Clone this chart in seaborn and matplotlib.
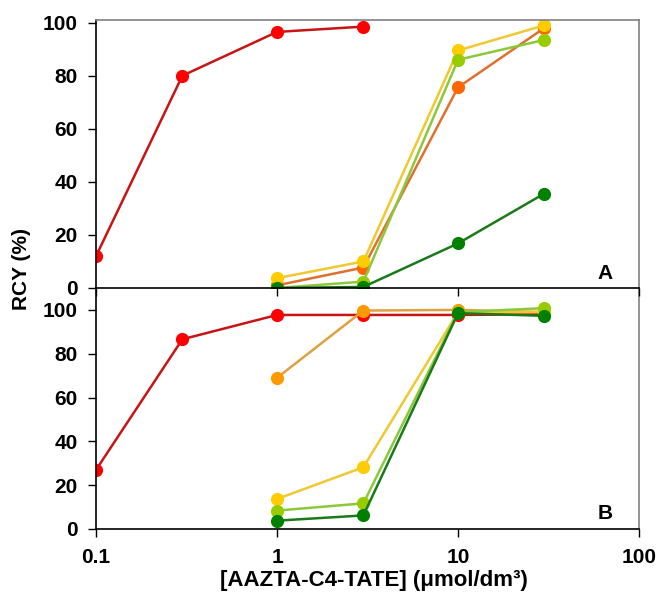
import numpy as np
import pandas as pd
import matplotlib
matplotlib.use("Agg")
import matplotlib.pyplot as plt
import seaborn as sns

# concentrations (umol/dm3)
conc_red = [0.1, 0.3, 1, 3]
conc_red_b = [0.1, 0.3, 1, 3, 10, 30]
conc = [1, 3, 10, 30]

# panel A - RCY (%)
a_red = [12, 80, 96.5, 98.5]
a_orange = [1, 7.7, 75.6, 98]
a_yellow = [3.7, 10, 89.5, 99]
a_lgreen = [0, 2.4, 86, 93.5]
a_green = [0, 0.4, 16.8, 35.6]

# panel B - RCY (%)
b_red = [27, 86.6, 97.7, 97.7, 97.7, 98]
b_orange = [69, 99.7, 100, 99]
b_yellow = [13.7, 28.2, 99, 99]
b_lgreen = [8.4, 11.7, 99, 100.8]
b_green = [3.8, 6.2, 98.5, 97.3]

xticks = [0.1, 1, 10, 100]
xticklabels = ["0.1", "1", "10", "100"]

sns.set_theme(style="ticks")
plt.rcParams["font.family"] = ["Liberation Sans", "DejaVu Sans"]
plt.rcParams["font.weight"] = "bold"
for k in ["text.color", "axes.labelcolor", "xtick.color", "ytick.color",
          "xtick.labelcolor", "ytick.labelcolor"]:
    plt.rcParams[k] = "black"

fig = plt.figure(figsize=(6.59, 5.98), dpi=100)
ax_b = fig.add_axes([0.1457, 0.1154, 0.824, 0.403])
ax_a = fig.add_axes([0.1457, 0.5184, 0.824, 0.4482])
ax_a.patch.set_alpha(0)

# (x, y, line colour, marker colour)
series_a = [
    (conc_red, a_red, "#C81414", "#FF0000"),
    (conc, a_orange, "#E07030", "#FF6600"),
    (conc, a_yellow, "#F0C830", "#FFCC00"),
    (conc, a_lgreen, "#8CC83C", "#99CC00"),
    (conc, a_green, "#1A7A1A", "#008000"),
]
series_b = [
    (conc_red_b, b_red, "#C81414", "#FF0000"),
    (conc, b_orange, "#E0A040", "#FF9900"),
    (conc, b_yellow, "#F0C830", "#FFCC00"),
    (conc, b_lgreen, "#8CC83C", "#99CC00"),
    (conc, b_green, "#1A7A1A", "#008000"),
]

for ax, series in [(ax_a, series_a), (ax_b, series_b)]:
    for x, y, lc, mc in series:
        df = pd.DataFrame({"x": x, "y": y})
        sns.lineplot(data=df, x="x", y="y", ax=ax, color=lc, marker="o",
                     markersize=9.5, markerfacecolor=mc, markeredgecolor=mc,
                     markeredgewidth=0, linewidth=1.8, sort=False)
    ax.set_xscale("log")
    ax.set_xlim(0.1, 100)
    ax.set_xticks(xticks)
    ax.minorticks_off()
    ax.set_yticks([0, 20, 40, 60, 80, 100])
    ax.set_xlabel("")
    ax.set_ylabel("")
    ax.tick_params(axis="both", direction="out", length=6, width=1,
                   color="black", labelsize=15, labelcolor="black")
    ax.tick_params(axis="y", pad=7)
    ax.tick_params(axis="x", pad=8)
    for s in ["left", "bottom"]:
        ax.spines[s].set_color("black")
        ax.spines[s].set_linewidth(1.2)
    for s in ["top", "right"]:
        ax.spines[s].set_color("#808080")
        ax.spines[s].set_linewidth(1.2)
    for lab in ax.get_yticklabels() + ax.get_xticklabels():
        lab.set_fontweight("bold")

ax_a.set_ylim(0, 101)
ax_a.set_xticklabels([])
ax_b.set_ylim(0, 110)
ax_b.set_xticklabels(xticklabels, fontweight="bold")
ax_b.spines["top"].set_visible(False)

ax_a.text(0.937, 0.055, "A", transform=ax_a.transAxes, fontsize=15,
          fontweight="bold", ha="center", va="center")
ax_b.text(0.937, 0.065, "B", transform=ax_b.transAxes, fontsize=15,
          fontweight="bold", ha="center", va="center")

fig.text(0.032, 0.55, "RCY (%)", rotation=90, fontsize=15, fontweight="bold",
         ha="center", va="center")
fig.text(0.567, 0.03, "[AAZTA-C4-TATE] (μmol/dm³)", fontsize=16,
         fontweight="bold", ha="center", va="center")

fig.savefig("out.png", dpi=100)
